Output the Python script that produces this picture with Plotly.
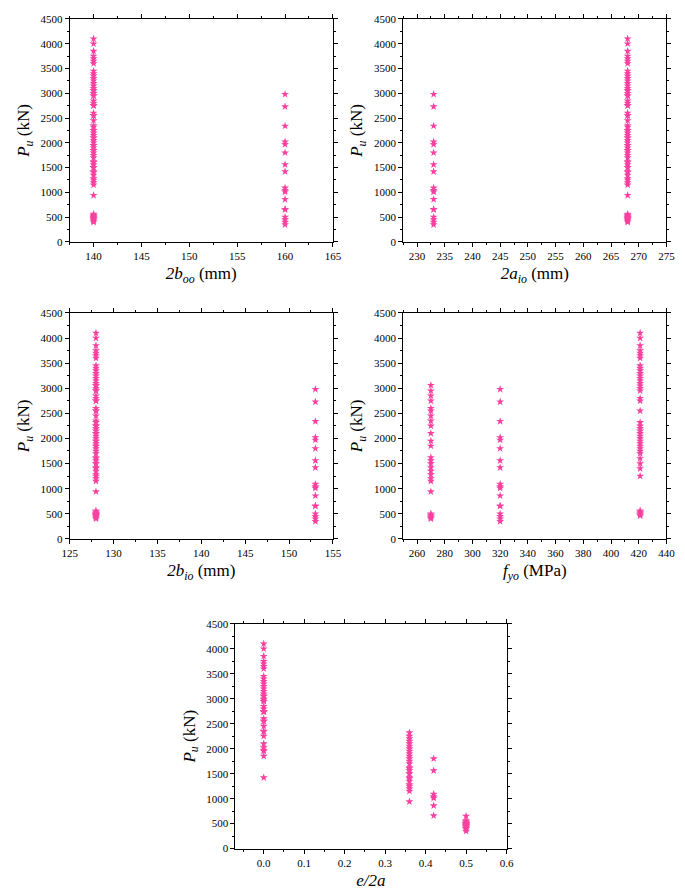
import plotly.graph_objects as go

# ultimate loads (kN) per specimen group
pu_a270_e50 = [400, 420, 440, 460, 480, 500]
pu_a270_e36 = [940, 1150, 1200, 1280, 1350, 1420, 1500, 1560, 1620]
pu_a270_e0 = [1850, 1950, 2100, 2250, 2350, 2450, 2550, 2600, 2750, 2850, 2950, 3060]
pu_a421_e50 = [460, 480, 500, 520, 540, 560]
pu_a421_e36 = [1250, 1400, 1500, 1600, 1700, 1750, 1800, 1850, 1900, 1950, 2000,
               2050, 2100, 2150, 2200, 2250, 2320]
pu_a421_e0 = [2550, 2750, 2800, 2950, 3000, 3050, 3100, 3150, 3200, 3250, 3300, 3350,
              3400, 3450, 3600, 3650, 3700, 3750, 3850, 4000, 4100]
pu_b_e0 = [2980, 2730, 2340, 2020, 1970, 1420]
pu_b_e42 = [1800, 1560, 1090, 1040, 1010, 860, 660]
pu_b_e50 = [650, 500, 450, 400, 350]

groups = [
    # (b_oo, a_io, b_io, f_yo, e/2a, loads)
    (140, 268, 128, 270, 0.5, pu_a270_e50),
    (140, 268, 128, 270, 0.36, pu_a270_e36),
    (140, 268, 128, 270, 0.0, pu_a270_e0),
    (140, 268, 128, 421, 0.5, pu_a421_e50),
    (140, 268, 128, 421, 0.36, pu_a421_e36),
    (140, 268, 128, 421, 0.0, pu_a421_e0),
    (160, 233, 153, 320, 0.0, pu_b_e0),
    (160, 233, 153, 320, 0.42, pu_b_e42),
    (160, 233, 153, 320, 0.5, pu_b_e50),
]

b_oo, a_io, b_io, f_yo, e2a, pu = [], [], [], [], [], []
for g in groups:
    for v in g[5]:
        b_oo.append(g[0]); a_io.append(g[1]); b_io.append(g[2])
        f_yo.append(g[3]); e2a.append(g[4]); pu.append(v)

W, H = 685, 893
panels = [
    (b_oo, "<i>2b<sub>oo</sub></i> (mm)", [137.5, 165], 5, (55, 325), (5, 231)),
    (a_io, "<i>2a<sub>io</sub></i> (mm)", [227.5, 275], 5, (397, 667), (5, 231)),
    (b_io, "<i>2b<sub>io</sub></i> (mm)", [125, 155], 5, (55, 325), (303, 532)),
    (f_yo, "<i>f<sub>yo</sub></i> (MPa)", [250, 440], 20, (397, 667), (303, 532)),
    (e2a, "<i>e/2a</i>", [-0.07, 0.6], 0.1, (225, 503), (618, 846)),
]

FONT = "Liberation Serif, Times New Roman, serif"
PINK = "#f7409f"
fig = go.Figure()
layout = {}
for i, (xs, title, xr, dt, (x0, x1), (y0, y1)) in enumerate(panels, start=1):
    sfx = "" if i == 1 else str(i)
    fig.add_trace(go.Scatter(
        x=xs, y=pu, mode="markers", xaxis="x" + sfx, yaxis="y" + sfx,
        marker=dict(symbol="star", size=6, color=PINK, line=dict(width=0)),
        showlegend=False,
    ))
    common = dict(showline=True, linecolor="black", linewidth=1, mirror="allticks",
                  ticks="outside", ticklen=4, tickcolor="black", showgrid=False,
                  zeroline=False, tickfont=dict(family=FONT, size=11, color="black"))
    layout["xaxis" + sfx] = dict(
        common, domain=[x0 / W, x1 / W], range=xr, dtick=dt, anchor="y" + sfx,
        tickformat=".1f" if dt < 1 else None,
        minor=dict(ticks="outside", ticklen=2, tickcolor="black", dtick=dt / 2),
        title=dict(text=title, font=dict(family=FONT, size=17, color="black"), standoff=6),
    )
    layout["yaxis" + sfx] = dict(
        common, domain=[1 - y1 / H, 1 - y0 / H], range=[0, 4500], dtick=500,
        anchor="x" + sfx,
        minor=dict(ticks="outside", ticklen=2, tickcolor="black", dtick=250),
        title=dict(text="<i>P<sub>u</sub></i> (kN)",
                   font=dict(family=FONT, size=17, color="black"), standoff=6),
    )

fig.update_layout(
    width=W, height=H, margin=dict(l=0, r=0, t=0, b=0),
    font=dict(family=FONT), paper_bgcolor="white", plot_bgcolor="white", **layout,
)
fig.write_html("out.html")
